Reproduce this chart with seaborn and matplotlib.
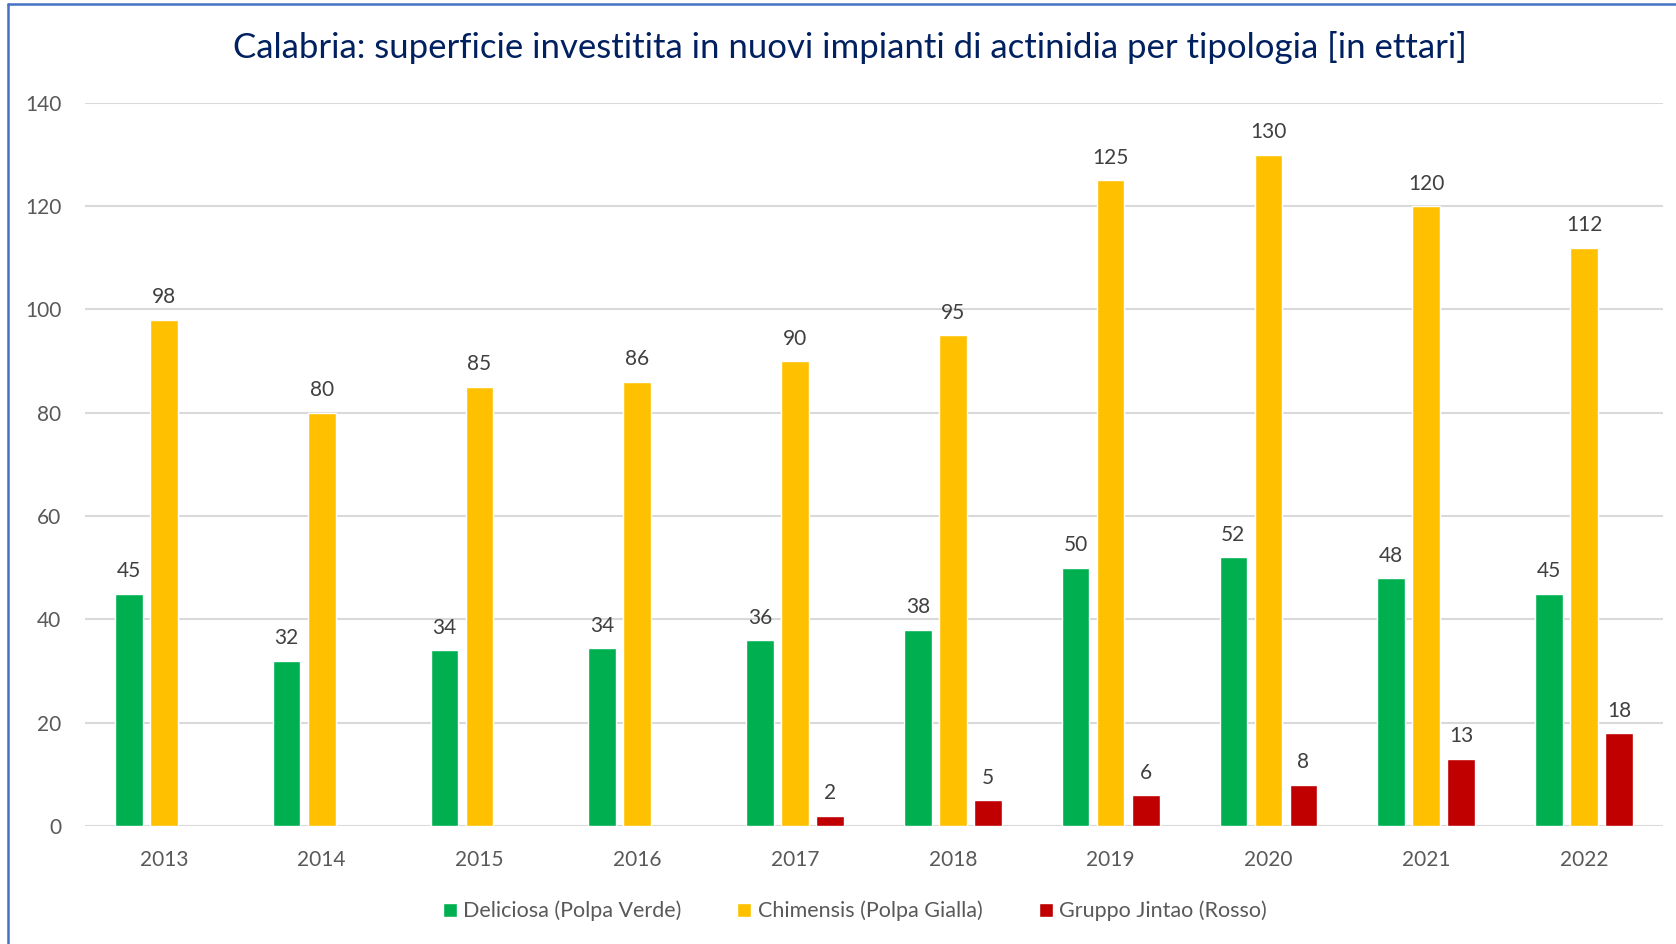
import pandas as pd
import numpy as np
import matplotlib.pyplot as plt
import seaborn as sns
from matplotlib.lines import Line2D

anni = ["2013", "2014", "2015", "2016", "2017", "2018", "2019", "2020", "2021", "2022"]
deliciosa = [45, 32, 34, 34.4, 36, 38, 50, 52, 48, 45]
chimensis = [98, 80, 85, 86, 90, 95, 125, 130, 120, 112]
jintao = [np.nan, np.nan, np.nan, np.nan, 2, 5, 6, 8, 13, 18]
tipologie = ["Deliciosa (Polpa Verde)", "Chimensis (Polpa Gialla)", "Gruppo Jintao (Rosso)"]
colori = ["#00B050", "#FFC000", "#C00000"]

df = pd.DataFrame({
    "anno": anni * 3,
    "ettari": deliciosa + chimensis + jintao,
    "tipologia": [tipologie[0]] * 10 + [tipologie[1]] * 10 + [tipologie[2]] * 10,
})

sns.set_style("white")
plt.rcParams["font.family"] = ["Lato", "DejaVu Sans"]

fig = plt.figure(figsize=(16.76, 9.44), dpi=100)
ax = fig.add_axes([0.0507, 0.125, 0.9415, 0.766])

sns.barplot(data=df, x="anno", y="ettari", hue="tipologia", hue_order=tipologie,
            palette=colori, width=0.666, gap=0.21, ax=ax, saturation=1, legend=True)

for c in ax.containers:
    labels = ["" if np.isnan(v) else f"{v:.0f}" for v in c.datavalues]
    ax.bar_label(c, labels=labels, padding=9, fontsize=15, color="#404040")

ax.set_ylim(0, 140)
ax.set_xlim(-0.5, 9.5)
ax.set_yticks(range(0, 141, 20))
ax.yaxis.grid(True, color="#D9D9D9", linewidth=1.5)
ax.set_axisbelow(True)
for s in ax.spines.values():
    s.set_visible(False)
ax.tick_params(axis="both", length=0, labelsize=15, labelcolor="#595959")
ax.tick_params(axis="y", pad=17)
ax.tick_params(axis="x", pad=17)
ax.set_xlabel("")
ax.set_ylabel("")

ax.legend(loc="center", bbox_to_anchor=(0.510, 0.035), bbox_transform=fig.transFigure,
          ncol=3, frameon=False, fontsize=15.5, handlelength=0.65, handleheight=0.65,
          handletextpad=0.3, columnspacing=2.6, labelcolor="#595959")

fig.text(0.507, 0.950, "Calabria: superficie investitita in nuovi impianti di actinidia per tipologia [in ettari]",
         ha="center", va="center", fontsize=25, color="#002060")

fig.add_artist(Line2D([8 / 1676, 8 / 1676], [0, 1 - 4 / 944], color="#4472C4", linewidth=1.8))
fig.add_artist(Line2D([8 / 1676, 1], [1 - 4 / 944, 1 - 4 / 944], color="#4472C4", linewidth=1.8))

fig.savefig("out.png", dpi=100)
